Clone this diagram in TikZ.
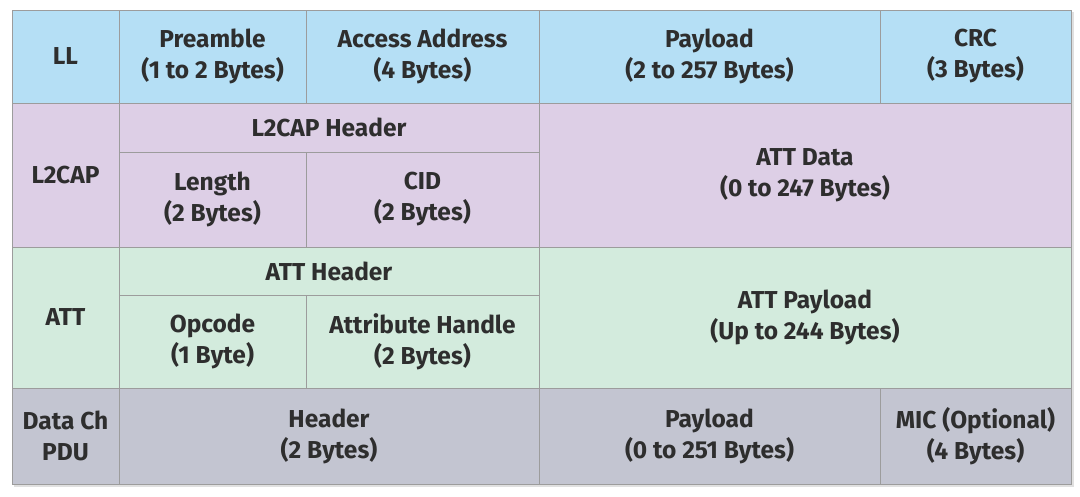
\documentclass[tikz,border=0pt]{standalone}
\usepackage{fontspec}
\setmainfont{Fira Sans}
\begin{document}
\begin{tikzpicture}[x=1pt,y=-1pt,
  cell/.style={draw=gridc, line width=1pt, inner sep=0pt, align=center,
    text=txtc, font=\fontsize{24.5}{31}\selectfont\bfseries},
  llcell/.style={cell, fill=llc},
  lccell/.style={cell, fill=l2c},
  attcell/.style={cell, fill=attc},
  pducell/.style={cell, fill=pduc}]
\definecolor{llc}{HTML}{B5DFF5}
\definecolor{l2c}{HTML}{DDCFE6}
\definecolor{attc}{HTML}{D3EBDD}
\definecolor{pduc}{HTML}{C3C5D1}
\definecolor{gridc}{HTML}{9C9C9C}
\definecolor{txtc}{HTML}{2E2E2E}
\useasboundingbox[fill=white] (0,0) rectangle (1080,496);
\fill[black!12] (14,12) rectangle (1074,487);
% helper: node centered in cell (x1,y1)-(x2,y2)
\newcommand{\cellnode}[7]{%
  \node[#1, minimum width={#4-#2}, minimum height={#5-#3}] (#6) at ({(#2+#4)/2},{(#3+#5)/2}) {#7};}
% LL row
\cellnode{llcell}{12}{10}{119}{103}{ll}{LL}
\cellnode{llcell}{119}{10}{306}{103}{pre}{Preamble\\(1 to 2 Bytes)}
\cellnode{llcell}{306}{10}{539}{103}{acc}{Access Address\\(4 Bytes)}
\cellnode{llcell}{539}{10}{880}{103}{pay}{Payload\\(2 to 257 Bytes)}
\cellnode{llcell}{880}{10}{1071}{103}{crc}{CRC\\(3 Bytes)}
% L2CAP row
\cellnode{lccell}{12}{103}{119}{247}{l2}{L2CAP}
\cellnode{lccell}{119}{103}{539}{152}{l2h}{L2CAP Header}
\cellnode{lccell}{119}{152}{306}{247}{len}{Length\\(2 Bytes)}
\cellnode{lccell}{306}{152}{539}{247}{cid}{CID\\(2 Bytes)}
\cellnode{lccell}{539}{103}{1071}{247}{attd}{ATT Data\\(0 to 247 Bytes)}
% ATT row
\cellnode{attcell}{12}{247}{119}{388}{att}{ATT}
\cellnode{attcell}{119}{247}{539}{295}{atth}{ATT Header}
\cellnode{attcell}{119}{295}{306}{388}{opc}{Opcode\\(1 Byte)}
\cellnode{attcell}{306}{295}{539}{388}{ahd}{Attribute Handle\\(2 Bytes)}
\cellnode{attcell}{539}{247}{1071}{388}{attp}{ATT Payload\\(Up to 244 Bytes)}
% Data Ch PDU row
\cellnode{pducell}{12}{388}{119}{484}{pdu}{Data Ch\\PDU}
\cellnode{pducell}{119}{388}{539}{484}{hdr}{Header\\(2 Bytes)}
\cellnode{pducell}{539}{388}{880}{484}{ppay}{Payload\\(0 to 251 Bytes)}
\cellnode{pducell}{880}{388}{1071}{484}{mic}{MIC (Optional)\\(4 Bytes)}
\end{tikzpicture}
\end{document}
